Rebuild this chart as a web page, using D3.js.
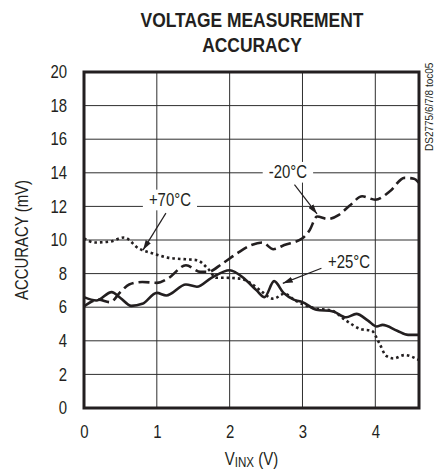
<!DOCTYPE html>
<html>
<head>
<meta charset="utf-8">
<script src="https://cdn.jsdelivr.net/npm/d3@7"></script>
<style>
  body { margin: 0; background: #fff; }
  svg { display: block; }
  text { font-family: "Liberation Sans", Arial, sans-serif; fill: #231f20; }
</style>
</head>
<body>
<div id="chart"></div>
<script>
// tick values
var xTicks = [0, 1, 2, 3, 4];
var yTicks = [0, 2, 4, 6, 8, 10, 12, 14, 16, 18, 20];

// -20C curve (dashed)
var coldV   = [0, 0.2, 0.36, 0.5, 0.62, 0.8, 1.0, 1.15, 1.4, 1.6, 1.7, 1.9, 2.1, 2.3, 2.45, 2.6, 2.75, 3.0, 3.1, 3.2, 3.35, 3.5, 3.65, 3.82, 4.0, 4.2, 4.4, 4.53, 4.6];
var coldAcc = [6.05, 6.45, 6.3, 6.9, 7.35, 7.5, 7.45, 7.7, 8.5, 8.1, 8.1, 8.6, 9.2, 9.7, 9.85, 9.45, 9.7, 10.1, 10.6, 11.4, 11.25, 11.5, 12.05, 12.6, 12.4, 12.9, 13.7, 13.65, 13.4];

// +25C curve (solid)
var roomV   = [0, 0.17, 0.38, 0.5, 0.65, 0.8, 1.0, 1.13, 1.4, 1.55, 1.75, 2.0, 2.2, 2.37, 2.48, 2.61, 2.74, 2.88, 3.0, 3.19, 3.42, 3.6, 3.74, 3.9, 4.02, 4.1, 4.3, 4.45, 4.6];
var roomAcc = [6.6, 6.4, 6.9, 6.55, 6.08, 6.2, 6.85, 6.7, 7.35, 7.22, 7.75, 8.2, 7.7, 7.0, 6.6, 7.55, 6.85, 6.45, 6.3, 5.85, 5.75, 5.4, 5.6, 5.2, 4.85, 4.95, 4.6, 4.35, 4.35];

// +70C curve (dotted)
var hotV   = [0, 0.15, 0.35, 0.55, 0.75, 0.95, 1.15, 1.4, 1.55, 1.7, 1.82, 1.95, 2.15, 2.3, 2.45, 2.6, 2.75, 2.9, 3.15, 3.4, 3.6, 3.8, 3.95, 4.05, 4.15, 4.25, 4.4, 4.6];
var hotAcc = [10.1, 9.85, 9.9, 10.15, 9.5, 9.2, 8.95, 8.85, 8.8, 8.3, 7.75, 7.75, 7.7, 7.4, 6.9, 6.5, 6.8, 6.4, 5.95, 5.8, 5.2, 4.7, 4.6, 3.9, 3.1, 2.95, 3.15, 2.85];

var margin = {top: 72, right: 17, bottom: 61, left: 84},
    width = 436 - margin.left - margin.right,
    height = 469 - margin.top - margin.bottom;

// no narrow face installed, so squeeze the regular one
var SQUEEZE = 0.83;

var svgRoot = d3.select("#chart")
  .append("svg")
    .attr("width", 436)
    .attr("height", 469);

var svg = svgRoot.append("g")
    .attr("transform", "translate(" + margin.left + "," + margin.top + ")");

var x = d3.scaleLinear().domain([0, 4.6]).range([0, width]);
var y = d3.scaleLinear().domain([0, 20]).range([height, 0]);

// squeeze a text around its own anchor point
function narrow(sel) {
  sel.each(function() {
    var t = d3.select(this);
    var ax = +t.attr("x") || 0;
    t.attr("transform", "translate(" + ax + ",0) scale(" + SQUEEZE + ",1) translate(" + (-ax) + ",0)");
  });
}

// title
svgRoot.append("text")
  .attr("x", 252).attr("y", 27)
  .attr("text-anchor", "middle")
  .style("font-weight", "bold").style("font-size", "21px")
  .text("VOLTAGE MEASUREMENT")
  .call(narrow);
svgRoot.append("text")
  .attr("x", 252).attr("y", 52)
  .attr("text-anchor", "middle")
  .style("font-weight", "bold").style("font-size", "21px")
  .text("ACCURACY")
  .call(narrow);

// grid
svg.append("g")
  .selectAll("line")
  .data(yTicks.slice(1, -1))
  .enter().append("line")
    .attr("x1", 0).attr("x2", width)
    .attr("y1", function(d) { return y(d); })
    .attr("y2", function(d) { return y(d); })
    .attr("stroke", "#2e2e2e").attr("stroke-width", 1);
svg.append("g")
  .selectAll("line")
  .data(xTicks.slice(1))
  .enter().append("line")
    .attr("y1", 0).attr("y2", height)
    .attr("x1", function(d) { return x(d); })
    .attr("x2", function(d) { return x(d); })
    .attr("stroke", "#2e2e2e").attr("stroke-width", 1);

// axes (labels only)
var xAxis = svg.append("g")
  .attr("transform", "translate(0," + height + ")")
  .call(d3.axisBottom(x).tickValues(xTicks).tickSize(0).tickPadding(17).tickFormat(d3.format("d")));
var yAxis = svg.append("g")
  .call(d3.axisLeft(y).tickValues(yTicks).tickSize(0).tickPadding(17).tickFormat(d3.format("d")));
[xAxis, yAxis].forEach(function(a) {
  a.select(".domain").remove();
  a.selectAll("text")
    .style("font-size", "18px").attr("fill", "#231f20")
    .call(narrow);
});

// axis titles
svgRoot.append("text")
  .attr("transform", "translate(28," + (margin.top + height / 2) + ") rotate(-90) scale(" + SQUEEZE + ",1)")
  .attr("text-anchor", "middle")
  .style("font-size", "18px")
  .text("ACCURACY (mV)");

var xt = svgRoot.append("text")
  .attr("x", margin.left + x(2.3)).attr("y", 465)
  .attr("text-anchor", "middle")
  .style("font-size", "18px")
  .call(narrow);
xt.append("tspan").text("V");
xt.append("tspan").attr("dy", 2).style("font-size", "14px").text("INX");
xt.append("tspan").attr("dy", -2).text(" (V)");

svgRoot.append("text")
  .attr("transform", "translate(433,151) rotate(-90)")
  .style("font-size", "10px")
  .text("DS2775/6/7/8 toc05");

// curves
var line = d3.line()
  .x(function(d) { return x(d[0]); })
  .y(function(d) { return y(d[1]); })
  .curve(d3.curveMonotoneX);

svg.append("path")
  .datum(d3.zip(hotV, hotAcc))
  .attr("fill", "none").attr("stroke", "#231f20")
  .attr("stroke-width", 2.6)
  .attr("stroke-dasharray", "2.6,3")
  .attr("d", line);
svg.append("path")
  .datum(d3.zip(coldV, coldAcc))
  .attr("fill", "none").attr("stroke", "#231f20")
  .attr("stroke-width", 2.6)
  .attr("stroke-dasharray", "11,5")
  .attr("d", line);
svg.append("path")
  .datum(d3.zip(roomV, roomAcc))
  .attr("fill", "none").attr("stroke", "#231f20")
  .attr("stroke-width", 2.6)
  .attr("d", line);

// frame
svg.append("rect")
  .attr("width", width).attr("height", height)
  .attr("fill", "none").attr("stroke", "#231f20").attr("stroke-width", 3);

// arrow marker
svgRoot.append("defs").append("marker")
  .attr("id", "arrow")
  .attr("viewBox", "0 0 10 6")
  .attr("refX", 10).attr("refY", 3)
  .attr("markerWidth", 10).attr("markerHeight", 6)
  .attr("markerUnits", "userSpaceOnUse")
  .attr("orient", "auto")
  .append("path").attr("d", "M0,0L10,3L0,6Z").attr("fill", "#231f20");

// annotations
function note(label, lx, ly, boxed, from, to) {
  var t = svg.append("text")
    .attr("x", x(lx)).attr("y", y(ly))
    .attr("dy", "0.35em")
    .attr("text-anchor", "middle")
    .style("font-size", "18px")
    .text(label)
    .call(narrow);
  if (boxed) {
    var b = t.node().getBBox();
    var w = b.width * SQUEEZE;
    svg.insert("rect", function() { return t.node(); })
      .attr("x", x(lx) - w / 2 - 6).attr("y", b.y)
      .attr("width", w + 12).attr("height", b.height)
      .attr("fill", "#fff");
  }
  svg.append("line")
    .attr("x1", x(from[0])).attr("y1", y(from[1]))
    .attr("x2", x(to[0])).attr("y2", y(to[1]))
    .attr("stroke", "#231f20").attr("stroke-width", 1.2)
    .attr("marker-end", "url(#arrow)");
}

note("-20°C", 2.8, 14.05, true, [2.89, 13.3], [3.2, 11.55]);
note("+70°C", 1.18, 12.4, true, [1.125, 11.6], [0.81, 9.4]);
note("+25°C", 3.64, 8.7, false, [3.26, 8.32], [2.73, 7.42]);
</script>
</body>
</html>
